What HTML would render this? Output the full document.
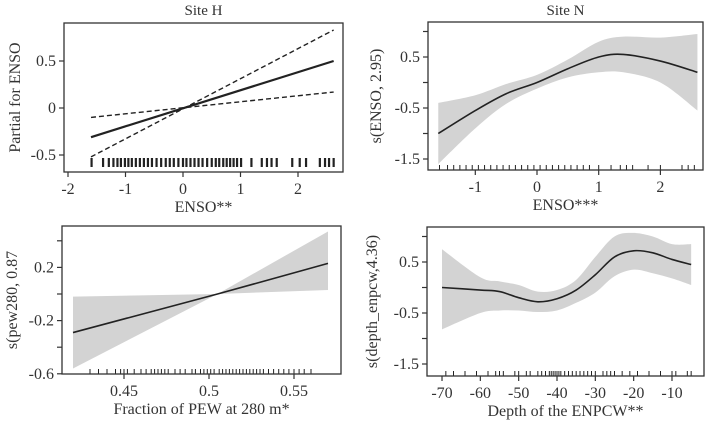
<!DOCTYPE html>
<html><head><meta charset="utf-8"><style>
html,body{margin:0;padding:0;background:#fff;}
svg{display:block;font-family:"Liberation Serif",serif;}
</style></head><body>
<svg id="c" width="709" height="428" viewBox="0 0 709 428"></svg>
<script>
// ---- Panel 1 data (Site H, linear) ----
const p1Ticks=[-2,-1,0,1,2];
const p1YTicks=[0.5,0,-0.5];
const p1YLabels=["0.5","0","-0.5"];
const p1X=[-1.6,2.62];
const p1Fit=[-0.31,0.5];
const p1Upper=[-0.52,0.83];
const p1Lower=[-0.1,0.17];
const p1Rug=[-1.59,-1.39,-1.29,-1.21,-1.14,-1.08,-1.01,-0.95,-0.89,-0.82,-0.75,-0.68,-0.61,-0.54,-0.46,-0.38,-0.30,-0.23,-0.16,-0.08,0.0,0.06,0.13,0.20,0.27,0.34,0.42,0.50,0.57,0.63,0.70,0.76,0.82,0.88,0.94,1.01,1.19,1.37,1.46,1.54,1.63,1.90,2.03,2.14,2.38,2.47,2.54,2.62];
// ---- Panel 2 data (Site N, ENSO smooth) ----
const p2Ticks=[-1,0,1,2];
const p2YTicks=[1,0.5,0,-0.5,-1,-1.5];
const p2YLabels=["","0.5","","-0.5","","-1.5"];
const p2X=[-1.6,-1,-0.5,0,0.5,1,1.4,2,2.6];
const p2Fit=[-1.0,-0.55,-0.22,0.0,0.27,0.5,0.55,0.42,0.2];
const p2Upper=[-0.4,-0.25,-0.03,0.15,0.45,0.8,0.9,0.88,0.95];
const p2Lower=[-1.6,-0.9,-0.42,-0.12,0.1,0.2,0.2,0.0,-0.55];
const p2Rug=[-1.58,-1.45,-1.35,-1.25,-1.15,-1.05,-0.95,-0.85,-0.75,-0.65,-0.55,-0.45,-0.35,-0.25,-0.15,-0.05,0.05,0.15,0.25,0.35,0.45,0.55,0.65,0.75,0.85,1.0,1.2,1.35,1.45,1.55,1.8,2.0,2.35,2.45,2.55];
// ---- Panel 3 data (pew280) ----
const p3Ticks=[0.45,0.5,0.55];
const p3YTicks=[0.4,0.2,0,-0.2,-0.4,-0.6];
const p3YLabels=["","0.2","","-0.2","","-0.6"];
const p3X=[0.42,0.505,0.57];
const p3Fit=[-0.29,0.0,0.23];
const p3Upper=[-0.02,0.0,0.47];
const p3Lower=[-0.56,0.0,0.03];
const p3Rug=[0.43,0.435,0.44,0.445,0.448,0.45,0.452,0.456,0.46,0.463,0.466,0.468,0.47,0.472,0.474,0.476,0.48,0.483,0.486,0.49,0.492,0.495,0.497,0.499,0.501,0.503,0.506,0.508,0.51,0.512,0.514,0.516,0.518,0.52,0.522,0.524,0.526,0.528,0.53,0.532,0.535,0.538,0.541,0.544,0.547,0.55,0.553,0.556,0.56];
// ---- Panel 4 data (depth_enpcw) ----
const p4Ticks=[-70,-60,-50,-40,-30,-20,-10];
const p4YTicks=[1,0.5,0,-0.5,-1,-1.5];
const p4YLabels=["","0.5","","-0.5","","-1.5"];
const p4X=[-70,-60,-55,-50,-45,-40,-35,-30,-25,-20,-15,-10,-5];
const p4Fit=[0.0,-0.05,-0.08,-0.2,-0.28,-0.22,-0.05,0.25,0.6,0.72,0.68,0.55,0.45];
const p4Upper=[0.75,0.2,0.12,0.05,-0.08,-0.05,0.15,0.6,1.0,1.07,1.0,0.85,0.85];
const p4Lower=[-0.82,-0.5,-0.45,-0.45,-0.48,-0.45,-0.3,-0.1,0.22,0.35,0.28,0.18,0.05];
const p4Rug=[-69,-67,-64,-61,-58,-56,-55,-54,-51,-50,-48,-47,-45,-44,-43,-42,-41.5,-41,-40.5,-40,-39.5,-39,-38,-37,-36,-35,-34,-33,-32,-31,-30,-28,-27,-26,-25,-23,-21,-19,-16,-13,-10,-9,-6,-5];

const NS="http://www.w3.org/2000/svg";
const svg=document.getElementById('c');
function el(tag,attrs,parent,text){const e=document.createElementNS(NS,tag);for(const k in attrs)e.setAttribute(k,attrs[k]);if(text!==undefined)e.textContent=text;(parent||svg).appendChild(e);return e;}
function poly(pts){return 'M'+pts.map(p=>p.join(',')).join('L');}
function smooth(pts){if(pts.length<3)return poly(pts);let d='M'+pts[0].join(',');for(let i=0;i<pts.length-1;i++){const p0=pts[Math.max(0,i-1)],p1=pts[i],p2=pts[i+1],p3=pts[Math.min(pts.length-1,i+2)];const c1=[p1[0]+(p2[0]-p0[0])/6,p1[1]+(p2[1]-p0[1])/6],c2=[p2[0]-(p3[0]-p1[0])/6,p2[1]-(p3[1]-p1[1])/6];d+='C'+c1.join(',')+' '+c2.join(',')+' '+p2.join(',');}return d;}

function panel(cfg){
  const g=el('g',{});
  
  
  const path=cfg.linear?poly:smooth;
  const sx=v=>cfg.x0+(v-cfg.xv0)*cfg.kx, sy=v=>cfg.y0-(v-cfg.yv0)*cfg.ky;
  if(cfg.title){const t=el('text',{x:(cfg.bx1+cfg.bx2)/2,y:15,'text-anchor':'middle','font-size':15,fill:'#333'},g,cfg.title);}
  if(cfg.upper){
    const up=cfg.xs.map((x,i)=>[sx(x),sy(cfg.upper[i])]), lo=cfg.xs.map((x,i)=>[sx(x),sy(cfg.lower[i])]).reverse();
    const band=el('path',{d:path(up)+path(lo).replace('M','L')+'Z',fill:'#d3d3d3',stroke:'none'},g);
    
  }
  if(cfg.dashUp){
    [cfg.dashUp,cfg.dashLo].forEach(arr=>{const l=el('path',{d:'M'+cfg.xs.map((x,i)=>sx(x)+','+sy(arr[i])).join('L'),stroke:'#222',fill:'none','stroke-width':1.4,'stroke-dasharray':'5,3'},g);});
  }
  const fit=el('path',{d:path(cfg.xs.map((x,i)=>[sx(x),sy(cfg.fit[i])])),stroke:'#222',fill:'none','stroke-width':cfg.fitW||1.6},g);
  
  cfg.rug.forEach(v=>{const r=el('line',{x1:sx(v),x2:sx(v),y1:cfg.ry1,y2:cfg.ry2,stroke:'#222','stroke-width':cfg.rugW},g);});
  const box=el('rect',{x:cfg.bx1,y:cfg.by1,width:cfg.bx2-cfg.bx1,height:cfg.by2-cfg.by1,fill:'none',stroke:'#333','stroke-width':1.3},g);
  
  cfg.xt.forEach((v,i)=>{const x=sx(v);el('line',{x1:x,x2:x,y1:cfg.by2,y2:cfg.by2+5,stroke:'#333','stroke-width':1.2},g);const t=el('text',{x:x,y:cfg.by2+22,'text-anchor':'middle','font-size':16,fill:'#333'},g,String(v));});
  cfg.yt.forEach((v,i)=>{const y=sy(v);el('line',{x1:cfg.bx1-5,x2:cfg.bx1,y1:y,y2:y,stroke:'#333','stroke-width':1.2},g);if(cfg.yl[i]){const t=el('text',{x:cfg.bx1-8,y:y+5,'text-anchor':'end','font-size':16,fill:'#333'},g,cfg.yl[i]);}});
  const xt=el('text',{x:(cfg.bx1+cfg.bx2)/2,y:cfg.by2+40,'text-anchor':'middle','font-size':16,fill:'#333'},g,cfg.xTitle);
  
  const cy=(cfg.by1+cfg.by2)/2;
  const yt=el('text',{x:cfg.ylx,y:cy,'text-anchor':'middle','font-size':16,fill:'#333',transform:`rotate(-90 ${cfg.ylx} ${cy})`},g,cfg.yTitle);
  
}
panel({name:'panel-site-h-enso',title:'Site H',x0:183,xv0:0,kx:57.5,y0:108,yv0:0,ky:94,bx1:64,bx2:343,by1:23,by2:172,xs:p1X,fit:p1Fit,dashUp:p1Upper,dashLo:p1Lower,fitW:2.2,rug:p1Rug,rugW:2.2,ry1:158,ry2:167,xt:p1Ticks,yt:p1YTicks,yl:p1YLabels,xTitle:'ENSO**',yTitle:'Partial for ENSO',ylx:20});
panel({name:'panel-site-n-enso',title:'Site N',x0:537,xv0:0,kx:61.7,y0:82.5,yv0:0,ky:51,bx1:428,bx2:703,by1:22,by2:170,xs:p2X,fit:p2Fit,upper:p2Upper,lower:p2Lower,rug:p2Rug,rugW:1,ry1:165,ry2:170,xt:p2Ticks,yt:p2YTicks,yl:p2YLabels,xTitle:'ENSO***',yTitle:'s(ENSO, 2.95)',ylx:381});
panel({name:'panel-pew280',linear:true,x0:209,xv0:0.5,kx:1700,y0:294,yv0:0,ky:133,bx1:62,bx2:341,by1:226,by2:374,xs:p3X,fit:p3Fit,upper:p3Upper,lower:p3Lower,rug:p3Rug,rugW:1,ry1:369,ry2:374,xt:p3Ticks,yt:p3YTicks,yl:p3YLabels,xTitle:'Fraction of PEW at 280 m*',yTitle:'s(pew280, 0.87',ylx:17});
panel({name:'panel-depth-enpcw',x0:557,xv0:-40,kx:3.833,y0:287.5,yv0:0,ky:51,bx1:427,bx2:704,by1:227,by2:376,xs:p4X,fit:p4Fit,upper:p4Upper,lower:p4Lower,rug:p4Rug,rugW:1,ry1:371,ry2:376,xt:p4Ticks,yt:p4YTicks,yl:p4YLabels,xTitle:'Depth of the ENPCW**',yTitle:'s(depth_enpcw,4.36)',ylx:377});
</script>
</body></html>
